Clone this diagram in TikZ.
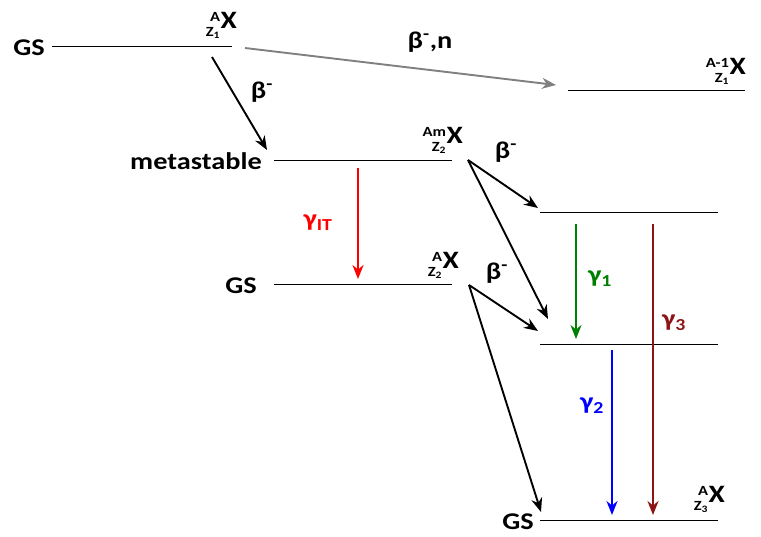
\documentclass[tikz,border=0pt]{standalone}
\usepackage{fontspec}
\setmainfont{Carlito}[FakeStretch=1.18]
\usetikzlibrary{arrows.meta}
\definecolor{gamgreen}{RGB}{0,128,0}
\definecolor{gamdark}{RGB}{140,20,20}
\newcommand\nucl[2]{\begin{tabular}{@{}r@{}}\fontsize{14}{14}\selectfont #1\\[2pt]\fontsize{14}{14}\selectfont #2\end{tabular}\hspace{0.5pt}\fontsize{25}{25}\selectfont X}
\tikzset{
  lvl/.style={line width=0.9pt, black},
  lab/.style={font=\fontsize{24}{24}\selectfont\bfseries, inner sep=0pt},
  nuc/.style={font=\bfseries, inner sep=0pt, anchor=east},
  decay/.style={line width=1.9pt, -{Stealth[length=14pt,width=11pt]}},
  gam/.style={line width=1.9pt, -{Stealth[length=14pt,width=11pt]}},
}
\begin{document}
\begin{tikzpicture}[x=1pt,y=-1pt]
\useasboundingbox (0,0) rectangle (761,536);
% level lines
\coordinate (l1a) at (52,46);  \coordinate (l1b) at (232,46);
\coordinate (l2a) at (568,90); \coordinate (l2b) at (745,90);
\coordinate (l3a) at (274,160); \coordinate (l3b) at (452,160);
\coordinate (l4a) at (274,284); \coordinate (l4b) at (452,284);
\coordinate (l5a) at (540,212); \coordinate (l5b) at (718,212);
\coordinate (l6a) at (540,344); \coordinate (l6b) at (718,344);
\coordinate (l7a) at (540,520); \coordinate (l7b) at (718,520);
\draw[lvl] (l1a) -- (l1b);
\draw[lvl] (l2a) -- (l2b);
\draw[lvl] (l3a) -- (l3b);
\draw[lvl] (l4a) -- (l4b);
\draw[lvl] (l5a) -- (l5b);
\draw[lvl] (l6a) -- (l6b);
\draw[lvl] (l7a) -- (l7b);
% state labels
\node[lab] (gs1) at (29,48) {GS};
\node[lab] (meta) at (196,161) {metastable};
\node[lab] (gs2) at (241,286) {GS};
\node[lab] (gs3) at (518,522) {GS};
% nuclide labels
\node[nuc] (n1) at (237,26) {\nucl{A}{Z\textsubscript{1}}};
\node[nuc] (n2) at (746,72) {\nucl{A-1}{Z\textsubscript{1}}};
\node[nuc] (n3) at (463,141) {\nucl{Am}{Z\textsubscript{2}}};
\node[nuc] (n4) at (459,266) {\nucl{A}{Z\textsubscript{2}}};
\node[nuc] (n5) at (725,500) {\nucl{A}{Z\textsubscript{3}}};
% decay arrows
\coordinate (g0) at (245,48);  \coordinate (g1) at (556,85);
\coordinate (b0) at (212,57);  \coordinate (b1) at (267,150);
\coordinate (m0) at (468,160); \coordinate (m1) at (538,208); \coordinate (m2) at (548,319);
\coordinate (s0) at (469,285); \coordinate (s1) at (538,331); \coordinate (s2) at (541,512);
\draw[decay, gray] (g0) -- (g1);
\draw[decay] (b0) -- (b1);
\draw[decay] (m0) -- (m1);
\draw[decay] (m0) -- (m2);
\draw[decay] (s0) -- (s1);
\draw[decay] (s0) -- (s2);
\node[lab] (tbn) at (430,42) {β\textsuperscript{-},n};
\node[lab] (tb1) at (262,92) {β\textsuperscript{-}};
\node[lab] (tb2) at (506,152) {β\textsuperscript{-}};
\node[lab] (tb3) at (497,273) {β\textsuperscript{-}};
% gamma arrows
\coordinate (r0) at (358,168); \coordinate (r1) at (358,279);
\coordinate (e0) at (576,224); \coordinate (e1) at (576,339);
\coordinate (u0) at (612,350); \coordinate (u1) at (612,515);
\coordinate (d0) at (653,224); \coordinate (d1) at (653,515);
\draw[gam, red] (r0) -- (r1);
\draw[gam, gamgreen] (e0) -- (e1);
\draw[gam, blue] (u0) -- (u1);
\draw[gam, gamdark] (d0) -- (d1);
\node[lab, red] (tgit) at (318,223) {γ\textsubscript{IT}};
\node[lab, gamgreen] (tg1) at (600,279) {γ\textsubscript{1}};
\node[lab, blue] (tg2) at (592,406) {γ\textsubscript{2}};
\node[lab, gamdark] (tg3) at (674,323) {γ\textsubscript{3}};
\end{tikzpicture}
\end{document}
